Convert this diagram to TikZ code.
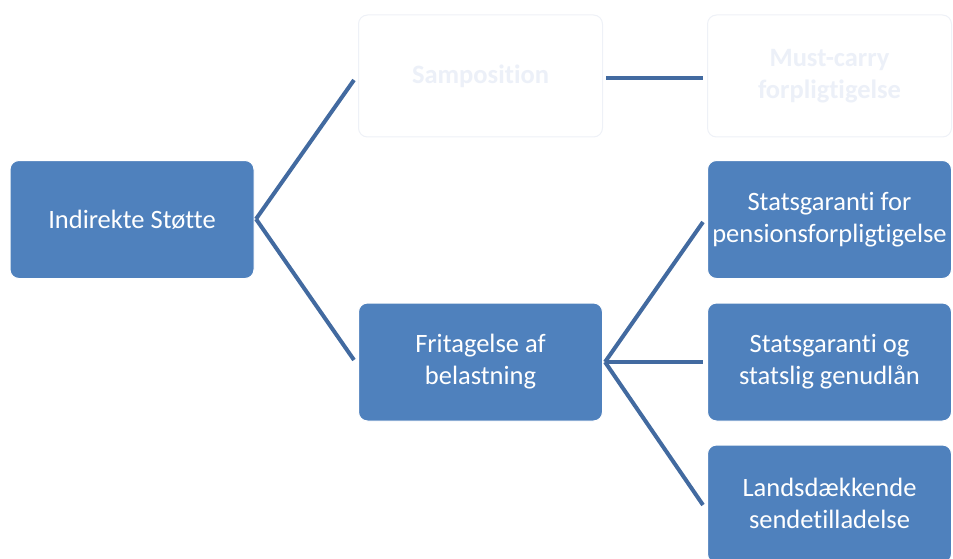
\documentclass[tikz,border=0pt]{standalone}
\usepackage{fontspec}
\setmainfont[Ligatures={NoCommon}]{Carlito}
\definecolor{boxblue}{RGB}{79,129,189}
\definecolor{linkblue}{RGB}{66,106,160}
\definecolor{faintline}{RGB}{238,241,247}
\definecolor{fainttext}{RGB}{236,240,248}
\begin{document}
\begin{tikzpicture}[x=1pt,y=-1pt,
  bluebox/.style={rectangle,rounded corners=9pt,fill=boxblue,draw=white,line width=1pt,
    minimum width=244pt,minimum height=118pt,text=white,align=center,
    font=\fontsize{26.5}{32}\selectfont},
  ghostbox/.style={rectangle,rounded corners=9pt,fill=white,draw=faintline,line width=1pt,
    minimum width=244pt,minimum height=122pt,text=fainttext,align=center,
    font=\fontsize{26.5}{32}\selectfont\bfseries},
  link/.style={draw=linkblue,line width=4pt}]
\useasboundingbox (0,0) rectangle (953,559);
\begin{scope}
\clip (0,0) rectangle (953,559);
\node[bluebox] (ind) at (132,219.5) {Indirekte Støtte};
\node[ghostbox] (sam) at (480.5,76) {Samposition};
\node[ghostbox] (must) at (829.5,76) {Must-carry\\forpligtigelse};
\node[bluebox] (fri) at (480.5,362) {Fritagelse af\\belastning};
\node[bluebox] (sg1) at (829.5,219.5) {Statsgaranti for\\pensionsforpligtigelse};
\node[bluebox] (sg2) at (829.5,362) {Statsgaranti og\\statslig genudlån};
\node[bluebox] (lan) at (829.5,504) {};
\node[text=white,align=center,font=\fontsize{26.5}{32}\selectfont] (lantext) at (829.5,503) {Landsdækkende\\sendetilladelse};
\coordinate (indr) at (256,219);
\coordinate (fril) at (605,362);
\draw[link] (indr) -- ([xshift=-4pt]sam.west |- 0,80) ;
\draw[link] (indr) -- ([xshift=-4pt]fri.west |- 0,360);
\draw[link] (fril) -- ([xshift=-4pt]sg1.west |- 0,222);
\draw[link] (fril) -- ([xshift=-4pt]sg2.west);
\draw[link] (fril) -- ([xshift=-4pt]lan.west |- 0,505);
\draw[link] ([xshift=3pt]sam.east |- 0,78) -- ([xshift=-4pt]must.west |- 0,78);
\end{scope}
\end{tikzpicture}
\end{document}
